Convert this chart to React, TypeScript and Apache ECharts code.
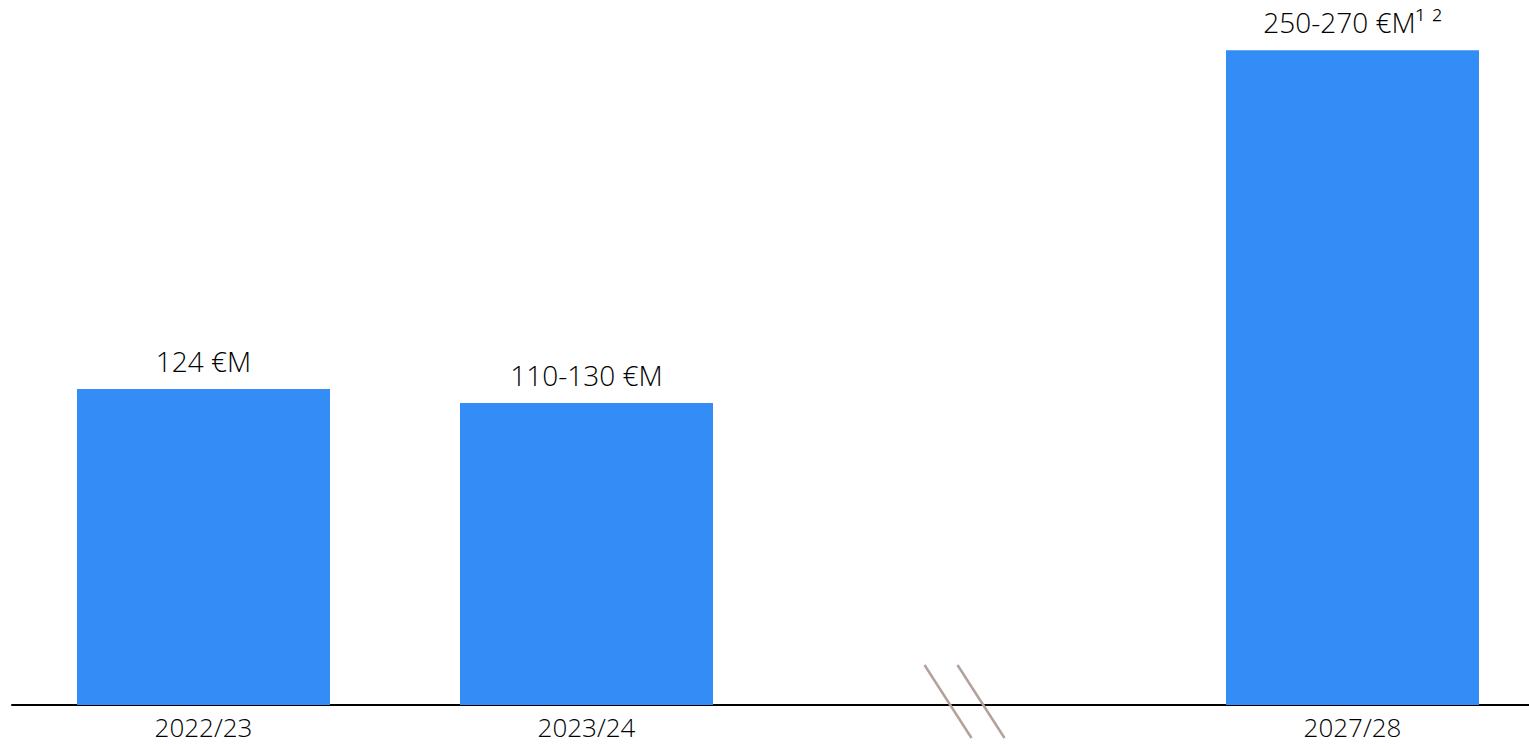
import React, { useEffect, useRef } from "react";
import * as echarts from "echarts";

const categories = ["2022/23", "2023/24", "", "2027/28"];
const values: (number | null)[] = [124, 118.5, null, 257];
const labels = ["124 €M", "110-130 €M", "", "250-270 €M¹ ²"];

const FONT = "'Open Sans', 'Noto Sans', sans-serif";

export default function App() {
  const ref = useRef<HTMLDivElement>(null);
  useEffect(() => {
    if (!ref.current) return;
    const chart = echarts.init(ref.current, null, { renderer: "svg" });
    chart.setOption({
      animation: false,
      grid: { left: 12, top: 17, width: 1532, bottom: 41, containLabel: false },
      xAxis: {
        type: "category",
        data: categories,
        axisLine: { lineStyle: { color: "#000", width: 2 } },
        axisTick: { show: false },
        axisLabel: {
          color: "#000",
          fontSize: 26,
          lineHeight: 26,
          fontFamily: FONT,
          fontWeight: 300,
          margin: 9,
        },
      },
      yAxis: { type: "value", min: 0, max: 270, show: false, splitLine: { show: false } },
      series: [
        {
          type: "bar",
          data: values,
          barWidth: 253,
          itemStyle: { color: "#348cf7" },
          label: {
            show: true,
            position: "top",
            distance: 14,
            color: "#000",
            fontSize: 28,
            fontFamily: FONT,
            fontWeight: 300,
            formatter: (p: any) => labels[p.dataIndex],
          },
        },
      ],
    });
    const c = chart.convertToPixel({ xAxisIndex: 0 }, 2) as number;
    const base = chart.convertToPixel({ yAxisIndex: 0 }, 0) as number;
    const mk = (dx: number) => ({
      type: "line",
      shape: { x1: c + dx - 45, y1: base - 40, x2: c + dx + 2, y2: base + 33 },
      style: { stroke: "#b3a29c", lineWidth: 2.5 },
      z: 100,
    });
    chart.setOption({ graphic: [mk(0), mk(33)] });
    return () => chart.dispose();
  }, []);
  return (
    <div
      style={{
        position: "absolute",
        left: 0,
        top: 0,
        width: 1529,
        height: 746,
        overflow: "hidden",
      }}
    >
      <div ref={ref} style={{ width: 1545, height: 746 }} />
    </div>
  );
}
